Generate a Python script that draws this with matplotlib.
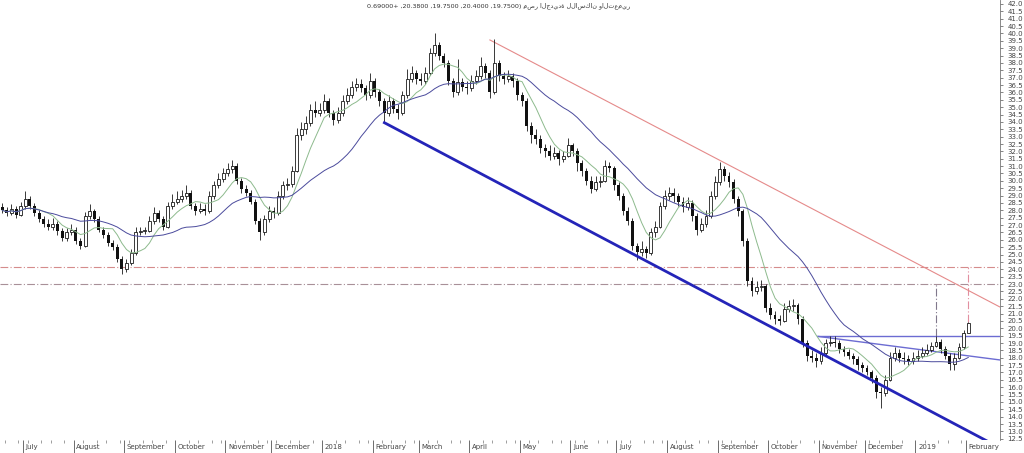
import numpy as np
import pandas as pd
import matplotlib
matplotlib.use('Agg')
import matplotlib.pyplot as plt
import matplotlib.transforms as mtransforms

# Price data (one candle = about two trading days) -----------------------------
start_date = '2017-06-17'
step = '68h'
first_open = 28.2

close = [
    28.0, 27.8, 28.1, 27.7, 28.3, 28.8, 28.3, 27.8, 27.4, 27.1,
    26.9, 27.1, 26.6, 26.1, 26.5, 26.7, 25.9, 25.6, 27.6, 27.95,
    27.4, 26.7, 26.3, 25.8, 25.5, 24.7, 24.0, 24.4, 25.1, 26.5,
    26.6, 26.6, 27.3, 27.8, 27.4, 26.9, 28.3, 28.6, 28.8, 29.0,
    29.2, 28.3, 27.95, 28.1, 27.95, 29.0, 29.7, 30.1, 30.5, 30.8,
    31.0, 30.0, 29.45, 29.2, 28.6, 27.3, 26.5, 27.4, 27.95, 27.8,
    29.0, 29.7, 29.8, 30.7, 33.1, 33.5, 33.9, 34.8, 34.6, 34.8,
    35.4, 34.6, 34.1, 34.6, 35.4, 35.8, 36.4, 36.6, 36.3, 35.8,
    36.8, 36.0, 35.4, 34.6, 35.4, 34.9, 34.6, 35.8, 36.9, 37.35,
    36.9, 36.8, 37.35, 38.7, 39.2, 38.5, 38.0, 36.8, 36.0, 36.7,
    36.4, 36.3, 36.8, 37.1, 37.8, 37.35, 36.0, 38.0, 37.1, 36.9,
    37.1, 36.8, 35.8, 35.4, 33.7, 33.1, 32.85, 32.2, 32.0, 31.7,
    31.9, 31.5, 31.7, 32.4, 32.0, 31.2, 30.7, 30.0, 29.45, 29.9,
    30.0, 31.0, 30.9, 29.7, 29.0, 27.95, 27.3, 25.6, 25.2, 25.35,
    25.1, 26.5, 26.9, 28.3, 28.95, 29.2, 28.95, 28.6, 28.2, 28.5,
    27.6, 26.7, 27.1, 27.6, 28.95, 29.9, 30.8, 30.35, 29.9, 28.8,
    27.95, 25.9, 23.2, 22.5, 22.8, 22.9, 21.4, 20.9, 20.6, 20.5,
    21.3, 21.5, 21.55, 20.6, 19.0, 18.1, 18.0, 17.75, 18.3, 19.0,
    19.1, 19.0, 18.6, 18.4, 18.15, 17.9, 17.5, 17.3, 17.05, 16.65,
    15.7, 15.6, 16.5, 18.0, 18.3, 18.0, 17.9, 17.75, 18.0, 18.1,
    18.3, 18.55, 18.8, 19.1, 18.6, 18.15, 17.6, 18.0, 18.7, 19.7,
    20.38,
]

high = [
    28.5, 28.2, 28.4, 28.3, 28.6, 29.3, 29.0, 28.5, 28.0, 27.6,
    27.4, 27.5, 27.3, 26.8, 26.8, 27.1, 26.9, 26.1, 27.9, 28.4,
    28.1, 27.6, 26.9, 26.5, 26.0, 25.7, 24.9, 24.7, 25.4, 26.9,
    26.9, 26.9, 27.6, 28.2, 28.0, 27.6, 28.6, 29.1, 29.3, 29.4,
    29.7, 29.4, 28.5, 28.5, 28.4, 29.3, 30.0, 30.5, 30.9, 31.2,
    31.4, 31.2, 30.2, 29.7, 29.4, 28.8, 27.5, 27.7, 28.3, 28.2,
    29.3, 30.0, 30.2, 31.0, 33.6, 34.0, 34.4, 35.2, 35.4, 35.3,
    35.9, 35.6, 34.8, 35.0, 35.8, 36.3, 36.8, 37.0, 36.9, 36.5,
    37.3, 37.0, 36.2, 35.6, 35.8, 35.6, 35.2, 36.1, 37.6, 37.8,
    37.5, 37.3, 37.7, 39.0, 40.0, 39.4, 38.7, 38.2, 37.0, 38.3,
    37.0, 36.8, 37.2, 37.5, 38.4, 38.0, 37.5, 39.6, 38.2, 37.4,
    37.5, 37.3, 37.0, 36.0, 35.6, 34.0, 33.5, 33.1, 32.5, 32.4,
    32.3, 32.1, 32.0, 32.9, 32.6, 32.2, 31.4, 30.9, 30.3, 30.3,
    30.3, 31.4, 31.3, 31.0, 29.9, 29.2, 28.2, 27.5, 25.8, 25.9,
    25.6, 26.8, 27.3, 28.6, 29.4, 29.6, 29.5, 29.2, 28.9, 28.9,
    28.7, 27.8, 27.5, 28.0, 29.3, 30.3, 31.3, 31.0, 30.6, 30.1,
    29.0, 28.1, 26.1, 23.5, 23.2, 23.3, 23.0, 21.7, 21.2, 20.9,
    21.7, 21.9, 22.0, 21.7, 20.8, 19.2, 18.5, 18.3, 18.7, 19.3,
    19.5, 19.5, 19.2, 18.8, 18.6, 18.3, 18.1, 17.7, 17.5, 17.2,
    16.8, 16.0, 16.8, 18.4, 18.7, 18.6, 18.4, 18.2, 18.4, 18.5,
    18.7, 18.9, 19.1, 19.5, 19.3, 18.8, 18.3, 18.3, 19.0, 19.9,
    20.4,
]

low = [
    27.8, 27.6, 27.7, 27.5, 27.6, 28.1, 28.1, 27.6, 27.2, 26.9,
    26.7, 26.7, 26.3, 25.9, 25.9, 26.3, 25.7, 25.4, 25.5, 27.4,
    27.2, 26.5, 26.1, 25.6, 25.3, 24.5, 23.7, 23.8, 24.3, 25.0,
    26.3, 26.4, 26.5, 27.1, 27.2, 26.7, 26.8, 28.1, 28.4, 28.6,
    28.8, 28.1, 27.7, 27.8, 27.7, 27.8, 28.8, 29.5, 29.9, 30.3,
    30.5, 29.8, 29.2, 29.0, 28.4, 27.1, 26.0, 26.3, 27.2, 27.5,
    27.7, 28.8, 29.4, 29.6, 30.6, 32.8, 33.2, 33.7, 34.3, 34.4,
    34.6, 34.3, 33.8, 33.9, 34.4, 35.2, 35.6, 36.1, 36.0, 35.5,
    35.6, 35.7, 35.1, 33.9, 34.4, 34.6, 34.2, 34.5, 35.6, 36.7,
    36.6, 36.5, 36.6, 37.2, 38.5, 38.2, 37.7, 36.5, 35.7, 35.8,
    36.1, 35.9, 36.1, 36.6, 36.9, 37.0, 35.6, 35.9, 36.8, 36.6,
    36.7, 36.4, 35.5, 35.1, 33.4, 32.6, 32.5, 31.9, 31.6, 31.4,
    31.5, 31.1, 31.3, 31.6, 31.7, 30.7, 30.3, 29.7, 29.2, 29.3,
    29.6, 29.9, 30.6, 29.4, 28.7, 27.7, 27.0, 25.3, 24.6, 24.9,
    24.8, 25.0, 26.2, 26.8, 28.1, 28.7, 28.6, 28.3, 27.9, 28.0,
    27.3, 26.3, 26.5, 26.9, 27.5, 28.8, 29.7, 30.0, 29.6, 28.5,
    27.6, 25.6, 22.9, 22.2, 22.3, 22.5, 21.1, 20.6, 20.3, 20.2,
    20.4, 21.1, 21.2, 20.3, 18.7, 17.8, 17.7, 17.4, 17.6, 18.2,
    18.8, 18.7, 18.3, 18.1, 17.9, 17.6, 17.2, 17.0, 16.8, 16.3,
    15.3, 14.6, 15.4, 16.4, 17.8, 17.7, 17.6, 17.5, 17.6, 17.8,
    18.0, 18.2, 18.4, 18.7, 18.3, 17.9, 17.2, 17.2, 17.9, 18.6,
    19.75,
]

# drawn studies: (candle index, price)
support_line = [(82.8, 33.99), (215.0, 12.2)]
resistance_line = [(106.0, 39.56), (216.9, 21.44)]
neck_level = 19.45
neck_slope_line = [(177.3, 19.45), (216.9, 17.85)]
target_levels = [24.15, 23.0]
target_marks = [203, 210]   # candles whose highs are projected to the targets

title_numbers = '0.69000+ ,20.3800 ,19.7500 ,20.4000 ,19.7500)'
title_name = 'مصر الجديدة للاسكان والتعمير'

# -----------------------------------------------------------------------------
c = np.array(close)
h = np.array(high)
l = np.array(low)
o = np.r_[first_open, c[:-1]]
n = len(c)
x = np.arange(n)
dates = pd.date_range(start_date, periods=n, freq=step)

ma_short = pd.Series(c).rolling(7, min_periods=1).mean()
ma_long = pd.Series(c).rolling(22, min_periods=1).mean()

fig = plt.figure(figsize=(10.24, 4.53), dpi=100)
ax = fig.add_axes([0, 13 / 453, 1000 / 1024, 440 / 453])

# candles
up = c >= o
body = np.maximum(np.abs(c - o), 0.06)
ax.vlines(x, l, h, color='#1a1a1a', lw=0.6, zorder=3)
ax.bar(x[up], body[up], bottom=np.minimum(o, c)[up], width=0.62,
       facecolor='white', edgecolor='#1a1a1a', lw=0.6, zorder=3)
ax.bar(x[~up], body[~up], bottom=np.minimum(o, c)[~up], width=0.62,
       color='#111111', lw=0, zorder=3)

# moving averages
ax.plot(x, ma_short, color='#8dba8d', lw=0.7, zorder=4)
ax.plot(x, ma_long, color='#4a4a9c', lw=0.7, zorder=4)

# trend lines
sx, sy = zip(*support_line)
ax.plot(sx, sy, color='#2424b8', lw=2.0, zorder=5, solid_capstyle='butt')
rx, ry = zip(*resistance_line)
ax.plot(rx, ry, color='#e58a8a', lw=0.8, zorder=2)
ax.plot([neck_slope_line[0][0], n + 10], [neck_level, neck_level],
        color='#6c6cd2', lw=1.0, zorder=2)
nx, ny = zip(*neck_slope_line)
ax.plot(nx, ny, color='#6c6cd2', lw=1.0, zorder=2)

dd = (0, (7, 2, 1, 2))
ax.axhline(target_levels[0], color='#d58c8c', lw=0.8, ls=dd, zorder=1)
ax.axhline(target_levels[1], color='#a89098', lw=0.8, ls=dd, zorder=1)
ax.vlines(target_marks[0], h[target_marks[0]], target_levels[1],
          color='#80788c', lw=0.8, linestyles=[dd], zorder=1)
ax.vlines(target_marks[1], h[target_marks[1]], target_levels[0],
          color='#e28fa0', lw=0.8, linestyles=[dd], zorder=1)

ax.set_xlim(-0.5, 216.9)
ax.set_ylim(12.42, 42.27)

# x axis: month separators with labels, weekly minor ticks
months = dates.to_period('M')
mstart = [i for i in range(1, n) if months[i] != months[i - 1]]
mlabels = [dates[i].strftime('%Y') if dates[i].month == 1
           else dates[i].strftime('%B') for i in mstart]
weeks = dates.isocalendar().week.values
wstart = [i - 0.5 for i in range(1, n) if weeks[i] != weeks[i - 1]]
ax.set_xticks([i - 0.5 for i in mstart])
ax.set_xticklabels(mlabels)
ax.set_xticks(wstart, minor=True)
ax.tick_params(axis='x', which='major', length=9.4, width=0.6,
               color='#555555', pad=-6.8, labelsize=5, labelcolor='#444444')
ax.tick_params(axis='x', which='minor', length=2.2, width=0.5,
               color='#777777')
shift = mtransforms.ScaledTranslation(2 / 72, 0, fig.dpi_scale_trans)
for t in ax.get_xticklabels():
    t.set_horizontalalignment('left')
    t.set_transform(t.get_transform() + shift)

# y axis on the right
ax.yaxis.tick_right()
ax.set_yticks(np.arange(12.5, 42.01, 0.5))
ax.yaxis.set_major_formatter(matplotlib.ticker.FormatStrFormatter('%.1f'))
ax.tick_params(axis='y', length=2.5, width=0.5, color='#555555', pad=3,
               labelsize=5, labelcolor='#444444')

for s in ['top', 'left', 'bottom']:
    ax.spines[s].set_visible(False)
ax.spines['right'].set_linewidth(0.6)
ax.spines['right'].set_color('#777777')

fig.text(0.487, 0.988, title_numbers + ' ' + title_name, fontsize=4.6,
         color='#333333', ha='center', va='center', family=['DejaVu Sans'])

fig.savefig('out.png', dpi=100)
